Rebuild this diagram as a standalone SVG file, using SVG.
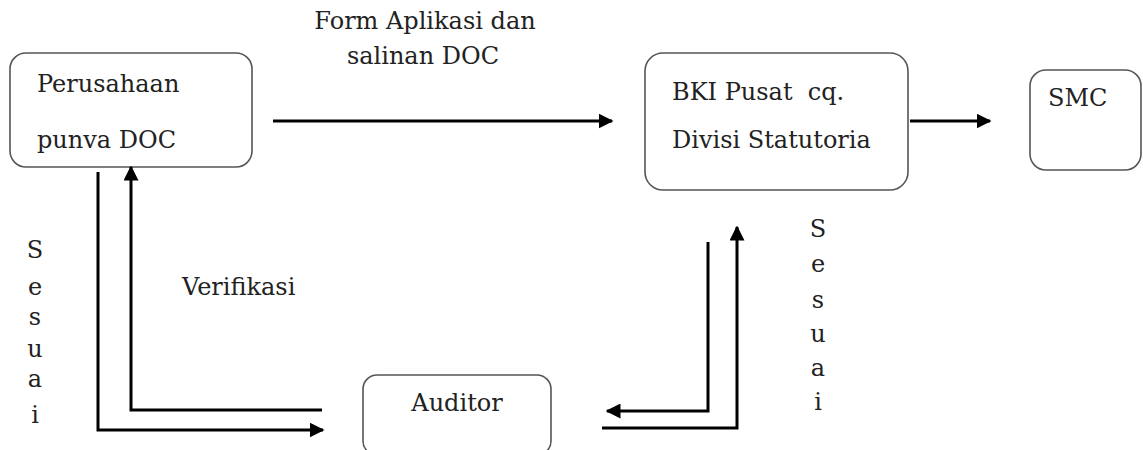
<svg xmlns="http://www.w3.org/2000/svg" width="1143" height="450" viewBox="0 0 1143 450">
<style>
.box{fill:#fff;stroke:#555;stroke-width:1.6}
.t{font-family:"DejaVu Serif","Liberation Serif",serif;font-size:24px;fill:#222}
.c{fill:none;stroke:#000;stroke-width:3}
</style>
<defs>
<marker id="ah" viewBox="0 0 10 10" refX="9" refY="5" markerWidth="5" markerHeight="5" orient="auto" markerUnits="strokeWidth">
<path d="M0,0 L10,5 L0,10 z" fill="#000"/>
</marker>
</defs>
<rect width="1143" height="450" fill="#fff"/>
<g id="perusahaan">
<rect class="box" x="10" y="53" width="242" height="114" rx="16"/>
<text class="t" x="37" y="92">Perusahaan</text>
<text class="t" x="37" y="148">punva DOC</text>
</g>
<g id="bki">
<rect class="box" x="645" y="53" width="263" height="137" rx="18"/>
<text class="t" x="672" y="100" xml:space="preserve">BKI Pusat  cq.</text>
<text class="t" x="672" y="148">Divisi Statutoria</text>
</g>
<g id="smc">
<rect class="box" x="1030" y="70" width="111" height="100" rx="16"/>
<text class="t" x="1048" y="106">SMC</text>
</g>
<g id="auditor">
<rect class="box" x="363" y="375" width="188" height="80" rx="14"/>
<text class="t" x="457" y="411" text-anchor="middle">Auditor</text>
</g>
<g id="connectors">
<path class="c" d="M273,121 H612" marker-end="url(#ah)"/>
<path class="c" d="M910,121 H990" marker-end="url(#ah)"/>
<path class="c" d="M98,172 V430 H323" marker-end="url(#ah)"/>
<path class="c" d="M322,410 H131 V167" marker-end="url(#ah)"/>
<path class="c" d="M708,242 V411 H607" marker-end="url(#ah)"/>
<path class="c" d="M602,428 H737 V227" marker-end="url(#ah)"/>
</g>
<g id="labels">
<text class="t" x="425" y="29" text-anchor="middle">Form Aplikasi dan</text>
<text class="t" x="423" y="64" text-anchor="middle">salinan DOC</text>
<text class="t" x="182" y="295">Verifikasi</text>
<g class="t" text-anchor="middle">
<text x="35" y="258">S</text>
<text x="35" y="295">e</text>
<text x="35" y="325">s</text>
<text x="35" y="357">u</text>
<text x="35" y="387">a</text>
<text x="35" y="423">i</text>
<text x="818" y="237">S</text>
<text x="818" y="272">e</text>
<text x="818" y="308">s</text>
<text x="818" y="342">u</text>
<text x="818" y="376">a</text>
<text x="818" y="410">i</text>
</g>
</g>
</svg>
